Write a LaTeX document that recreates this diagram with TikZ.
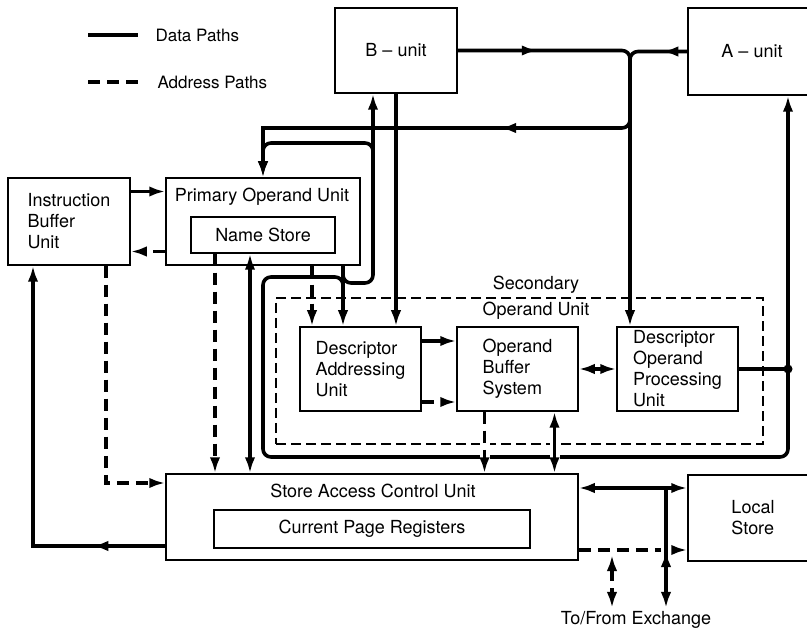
\documentclass[tikz,border=0pt]{standalone}
\usepackage{fontspec}
\setmainfont{TeX Gyre Heros}
\usetikzlibrary{arrows.meta,decorations.markings}

\tikzset{
  unitbox/.style 2 args={draw,line width=1.5pt,minimum width=#1,minimum height=#2,align=left,inner sep=0pt},
  datapath/.style={line width=3.6pt},
  addrpath/.style={line width=3.6pt,dash pattern=on 12pt off 7pt},
  midarr/.style={postaction={decorate},decoration={markings,mark=at position #1 with {\arrow{>}}}},
  backarr/.style={postaction={decorate},decoration={markings,mark=at position #1 with {\arrow{<}}}},
  halo/.style={preaction={draw,white,solid,-,line width=10pt,shorten <=6pt,shorten >=6pt}},
}

\begin{document}
\begin{tikzpicture}[x=1pt,y=-1pt,>={Latex[length=16pt,width=10.5pt]},
  font=\fontsize{18}{21}\selectfont]
\useasboundingbox (0,0) rectangle (807,631);
\clip (0,0) rectangle (807,631);

\coordinate (legd1) at (88,35);
\coordinate (legd2) at (138,35);
\coordinate (lega1) at (88,82);
\coordinate (lega2) at (138,82);
\draw[datapath] (legd1) -- (legd2);
\draw[addrpath] (lega1) -- (lega2);
\node[anchor=west,font=\fontsize{17}{20}\selectfont] (ldata) at (152,35) {Data Paths};
\node[anchor=west,font=\fontsize{17}{20}\selectfont] (laddr) at (154,82) {Address Paths};

\node[unitbox={122pt}{85pt}] (bunit) at (396,50.5) {B \textendash{} unit};
\node[unitbox={128pt}{87pt}] (aunit) at (752,51.5) {A \textendash{} unit};
\node[unitbox={122pt}{87pt}] (ibu) at (69,221.5) {Instruction\\Buffer\\Unit};
\node[unitbox={194pt}{87pt}] (pou) at (263,221.5) {};
\node (poutitle) at (262,197) {Primary Operand Unit};
\node[unitbox={144pt}{36pt}] (names) at (263,235) {Name Store};

\node[draw,line width=1.3pt,dash pattern=on 10pt off 5pt,minimum width=487pt,minimum height=146pt] (sou) at (519.5,371) {};
\node[align=center] (soutitle) at (536,298) {Secondary\\[5pt]Operand Unit};
\node[unitbox={121pt}{84pt}] (dau) at (360.5,369) {Descriptor\\Addressing\\Unit};
\node[unitbox={121pt}{84pt}] (obs) at (517.5,369) {Operand\\Buffer\\System};
\node[unitbox={121pt}{84pt}] (dopu) at (677.5,369) {Descriptor\\Operand\\Processing\\Unit};

\node[unitbox={412pt}{86pt}] (sacu) at (372,517) {};
\node (sacutitle) at (373,491) {Store Access Control Unit};
\node[unitbox={316pt}{38pt}] (cpr) at (372,529) {Current Page Registers};
\node[unitbox={130pt}{86pt}] (local) at (753,518) {Local\\Store};
\node (exch) at (636,620) {To/From Exchange};

\coordinate (jb) at (630,128);
\coordinate (jt) at (373,143);
\coordinate (jp) at (343,283);
\coordinate (jo) at (263,457);
\coordinate (jk) at (788,369);
\coordinate (jl) at (666,488);
\coordinate (jx) at (612,550);

\draw[datapath,->,rounded corners=8pt,midarr=80pt] (bunit.east) -| (jb) -- (jb |- dopu.north);
\draw[datapath,rounded corners=8pt,midarr=25pt] (aunit.west) -| ([yshift=20pt]jb);
\draw[datapath,rounded corners=8pt] ([yshift=20pt]jb) |- ([xshift=-60pt]jb);
\draw[datapath,->,midarr=70pt] ([xshift=-60pt]jb) -| (pou.north);

\draw[datapath,->] (jp |- pou.south) -- (jp |- dau.north);
\draw[datapath,->,rounded corners=8pt] ([yshift=8pt]jp) |- (jt |- jp) -- (jt |- bunit.south);
\draw[datapath,->,rounded corners=8pt] ([yshift=-15pt]jt) -- (jt) -| (pou.north);
\draw[datapath,rounded corners=8pt] (jk) |- (jo) |- ([yshift=6pt]jp) -- ([yshift=-17pt]jp);
\draw[datapath] (dopu.east) -- (jk);
\draw[datapath,->] (jk) -- (jk |- aunit.south);
\fill (jk) circle (4.5pt);

\draw[datapath,->] (bunit.south) -- (bunit.south |- dau.north);
\draw[addrpath,->] ([xshift=-31pt]jp |- pou.south) -- ([xshift=-31pt]jp |- dau.north);

\draw[datapath,->] ([yshift=30pt]ibu.east) -- ([yshift=30pt]pou.west);
\draw[addrpath,->] ([yshift=-30pt]pou.west) -- ([yshift=-30pt]ibu.east);
\draw[addrpath,->] ([xshift=37pt]ibu.south) |- ([yshift=34pt]sacu.west);
\draw[datapath,->,midarr=73pt] ([yshift=-29pt]sacu.west) -| ([xshift=-36pt]ibu.south);

\draw[addrpath,->] ([xshift=-48pt]names.south) -- ([xshift=-48pt]names.south |- sacu.north);
\draw[datapath,<->] ([xshift=-13pt]names.south) -- ([xshift=-13pt]names.south |- sacu.north);

\draw[datapath,->] ([yshift=28pt]dau.east) -- ([yshift=28pt]obs.west);
\draw[addrpath,->] ([yshift=-33pt]dau.east) -- ([yshift=-33pt]obs.west);
\draw[datapath,<->] (obs.east) -- (dopu.west);

\draw[datapath,<->] ([yshift=29pt]sacu.east) -- ([yshift=29pt]sacu.east -| local.west);
\draw[addrpath,->] ([yshift=-33pt]sacu.east) -- ([yshift=-33pt]sacu.east -| local.west);
\draw[addrpath,<->,shorten <=5pt] (jx) -- ([xshift=-24pt]exch.north);

\draw[addrpath,->,halo] ([xshift=-33pt]obs.south) -- ([xshift=-33pt]obs.south |- sacu.north);
\draw[datapath,<->,halo] ([xshift=37pt]obs.south) -- ([xshift=37pt]obs.south |- sacu.north);
\draw[datapath,->,halo,backarr=79pt] (jl) -- ([xshift=30pt]exch.north);
\end{tikzpicture}
\end{document}
